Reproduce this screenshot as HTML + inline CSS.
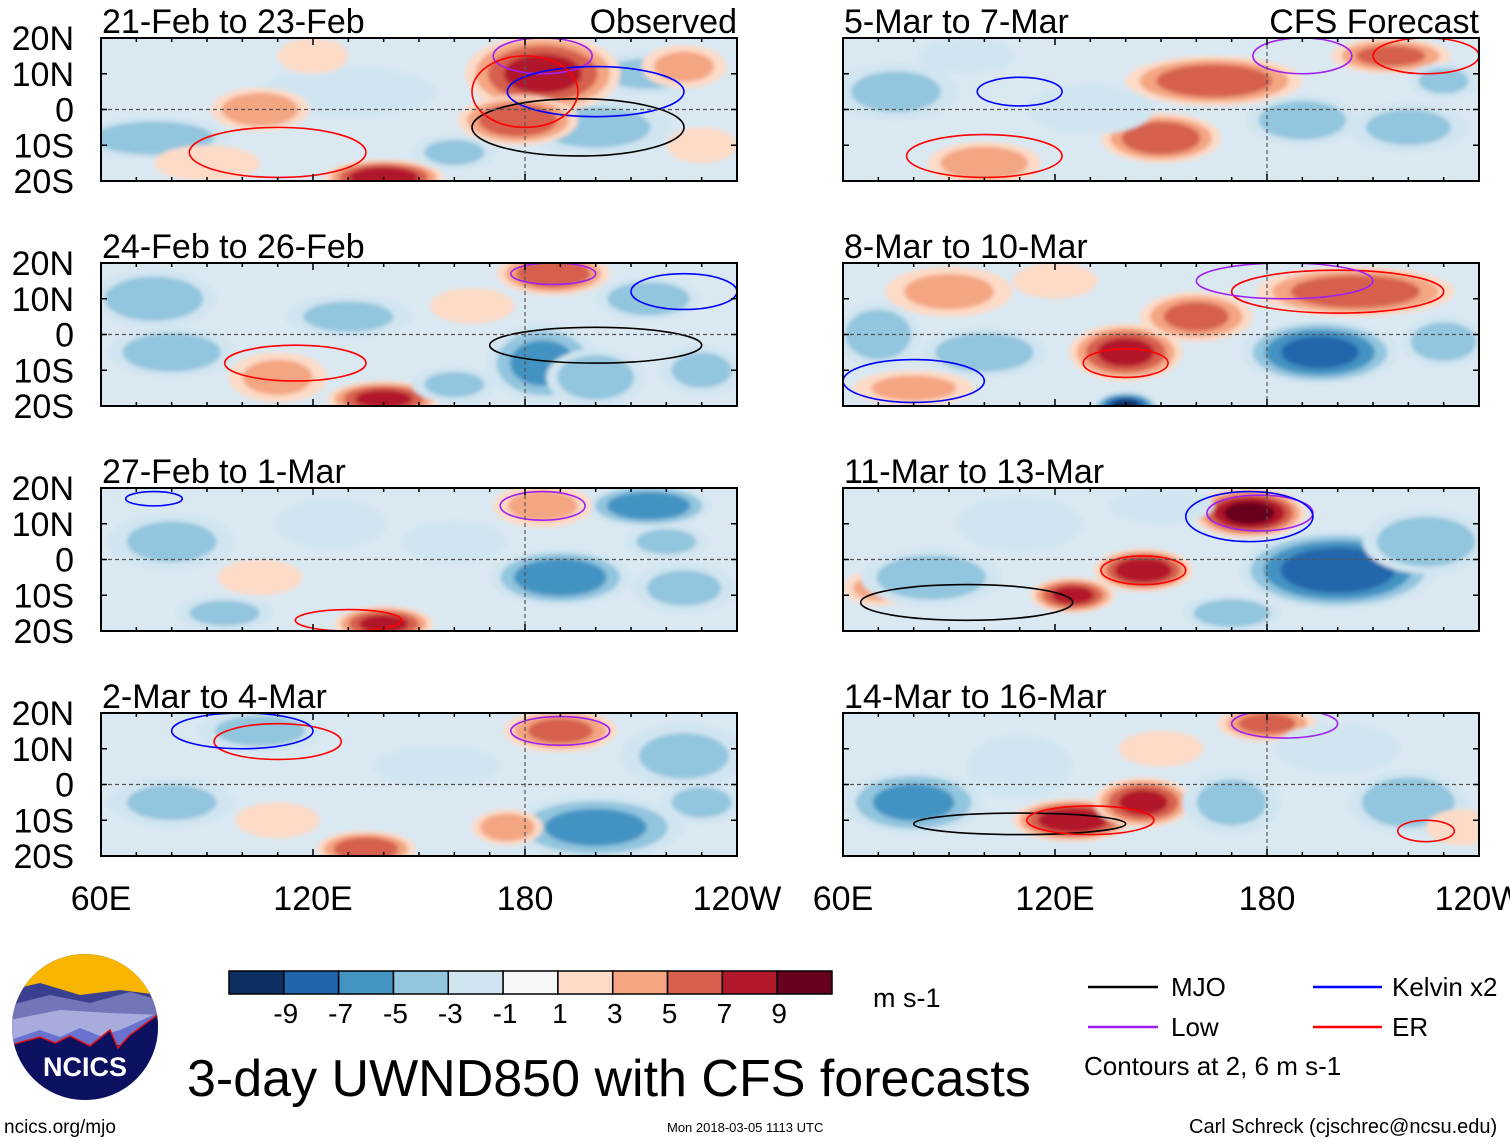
<!DOCTYPE html>
<html><head><meta charset="utf-8">
<style>
body{margin:0;background:#fff;width:1510px;height:1142px;overflow:hidden;font-family:"Liberation Sans",sans-serif;}
svg text{font-family:"Liberation Sans",sans-serif;}
</style></head>
<body>
<svg id="root" width="1510" height="1142" xmlns="http://www.w3.org/2000/svg">
<defs>
<filter id="blur" x="-20%" y="-20%" width="140%" height="140%"><feGaussianBlur stdDeviation="2"/></filter>
<clipPath id="logoClip"><circle cx="85" cy="1027" r="73"/></clipPath>
</defs>
<g id="panels"></g>
<g id="colorbar"></g>
<text x="873" y="1007" font-size="27">m s-1</text>
<g font-size="26">
<line x1="1088" y1="987" x2="1158" y2="987" stroke="#000" stroke-width="2.5"/><text x="1171" y="996">MJO</text>
<line x1="1088" y1="1027" x2="1158" y2="1027" stroke="#a020f0" stroke-width="2.5"/><text x="1171" y="1036">Low</text>
<line x1="1313" y1="987" x2="1382" y2="987" stroke="#0000ff" stroke-width="2.5"/><text x="1392" y="996">Kelvin x2</text>
<line x1="1313" y1="1027" x2="1382" y2="1027" stroke="#ff0000" stroke-width="2.5"/><text x="1392" y="1036">ER</text>
<text x="1084" y="1075" font-size="26">Contours at 2, 6 m s-1</text>
</g>
<text x="187" y="1096" font-size="52">3-day UWND850 with CFS forecasts</text>
<text x="4" y="1133" font-size="19">ncics.org/mjo</text>
<text x="667" y="1132" font-size="13">Mon 2018-03-05 1113 UTC</text>
<text x="1189" y="1133" font-size="20">Carl Schreck (cjschrec@ncsu.edu)</text>
<g>
<g clip-path="url(#logoClip)">
<rect x="10" y="950" width="150" height="160" fill="#1a1a6e"/>
<rect x="10" y="950" width="150" height="50" fill="#f7b500"/>
<path d="M10 990 L40 983 L80 995 L120 990 L160 995 L160 1040 L10 1040Z" fill="#3a3f8f"/>
<path d="M10 1005 L50 995 L90 1003 L130 992 L160 1000 L160 1040 L10 1040Z" fill="#7276b8"/>
<path d="M10 1020 L60 1010 L110 1013 L160 1015 L160 1045 L10 1045Z" fill="#a8acdc"/>
<path d="M10 1040 L40 1030 L60 1037 L80 1028 L100 1036 L120 1030 L160 1012 L160 1045 L10 1045Z" fill="#6a72d0"/>
<path d="M10 1045 L40 1037 L55 1043 L70 1036 L90 1046 L110 1030 L118 1048 L130 1035 L160 1013 L160 1110 L10 1110Z" fill="#0c1060" stroke="#e01010" stroke-width="1.5"/>
</g>
<text x="85" y="1076" font-size="27" font-weight="bold" fill="#fff" text-anchor="middle">NCICS</text>
</g>
</svg>
<script>
// Color scale data
const levels = [-9,-7,-5,-3,-1,1,3,5,7,9];
const colors = ["#0a2f60","#2166ac","#4393c3","#92c5de","#d1e5f0","#f7f7f7","#fddbc7","#f4a582","#d6604d","#b2182b","#67001f"];
const lonTicks = [60,120,180,240];
const lonLabels = ["60E","120E","180","120W"];
const latTicks = [20,10,0,-10,-20];
const latLabels = ["20N","10N","0","10S","20S"];
const titles = ["21-Feb to 23-Feb","24-Feb to 26-Feb","27-Feb to 1-Mar","2-Mar to 4-Mar","5-Mar to 7-Mar","8-Mar to 10-Mar","11-Mar to 13-Mar","14-Mar to 16-Mar"];
// anomaly blobs: [lon, lat, lonRadius, latRadius, value m/s]
const blobs0 = [[75,-8,22,6,-4],[130,5,25,7,-2],[200,-5,22,8,-3],[215,10,18,6,-3],[105,0,14,6,4],[185,10,22,11,7],[178,-3,17,7,6],[140,-19,17,5,8],[225,12,12,6,3],[160,-12,12,5,-3],[90,-15,15,5,2],[120,15,10,5,2],[230,-10,10,5,2]];
const blobs1 = [[75,10,18,8,-4],[80,-5,18,7,-4],[185,-8,16,11,-5],[200,-12,14,8,-4],[215,10,15,6,-4],[130,5,18,6,-3],[188,17,16,6,6],[140,-18,16,5,7],[110,-12,14,7,3],[160,-14,12,5,-3],[165,8,12,5,2],[230,-10,12,7,-3]];
const blobs2 = [[215,15,18,6,-6],[190,-5,20,8,-6],[225,-8,15,7,-3],[80,5,18,8,-3],[140,-18,14,5,7],[185,15,14,6,3],[105,-5,12,5,2],[160,5,15,6,-2],[125,10,16,7,-2],[95,-15,14,5,-3],[220,5,12,5,-3]];
const blobs3 = [[200,-12,25,9,-5],[225,8,18,9,-3],[105,15,18,6,-3],[190,15,16,6,5],[135,-18,14,5,6],[175,-12,10,5,4],[80,-5,18,7,-3],[155,5,18,6,-2],[230,-5,12,6,-3],[110,-10,12,5,2]];
const blobs4 = [[165,8,25,7,6],[150,-8,17,7,6],[215,15,17,5,5],[100,-15,16,6,4],[190,-3,16,7,-4],[220,-5,17,7,-3],[75,5,18,8,-3],[130,0,18,7,-2],[95,15,14,5,-2],[230,8,10,5,-3]];
const blobs5 = [[140,-5,16,8,7],[160,5,16,7,5],[205,12,28,7,6],[90,12,18,7,3],[80,-15,17,5,3],[195,-5,22,9,-7],[140,-20,9,4,-9],[230,-2,12,7,-4],[100,-5,18,7,-4],[70,0,12,9,-4],[120,15,12,5,2]];
const blobs6 = [[175,13,16,7,9],[145,-3,14,6,8],[125,-10,12,5,7],[70,-8,10,5,3],[200,-3,28,11,-8],[225,5,18,9,-4],[85,-5,20,8,-4],[170,-15,14,5,-4],[110,10,18,8,-2],[150,15,15,5,-2]];
const blobs7 = [[125,-10,17,6,8],[145,-5,14,7,7],[180,17,14,5,5],[80,-5,20,9,-5],[220,-5,17,9,-4],[170,-5,14,9,-3],[200,10,18,7,-2],[110,5,15,9,-2],[235,-12,10,5,2],[150,10,12,5,2]];
const allBlobs = [blobs0,blobs1,blobs2,blobs3,blobs4,blobs5,blobs6,blobs7];
// contours [lon, lat, rx, ry, colour]
const contours0 = [[185,15,14,5,"#a020f0"],[200,5,25,7,"#0000ff"],[195,-5,30,8,"#000"],[180,5,15,10,"#ff0000"],[110,-12,25,7,"#ff0000"]];
const contours1 = [[200,-3,30,5,"#000"],[188,17,12,3,"#a020f0"],[225,12,15,5,"#0000ff"],[115,-8,20,5,"#ff0000"]];
const contours2 = [[185,15,12,4,"#a020f0"],[75,17,8,2,"#0000ff"],[130,-17,15,3,"#ff0000"]];
const contours3 = [[190,15,14,4,"#a020f0"],[110,12,18,5,"#ff0000"],[100,15,20,5,"#0000ff"]];
const contours4 = [[190,15,14,5,"#a020f0"],[100,-13,22,6,"#ff0000"],[225,15,15,5,"#ff0000"],[110,5,12,4,"#0000ff"]];
const contours5 = [[200,12,30,6,"#ff0000"],[185,15,25,5,"#a020f0"],[80,-13,20,6,"#0000ff"],[140,-8,12,4,"#ff0000"]];
const contours6 = [[178,13,15,5,"#a020f0"],[175,12,18,7,"#0000ff"],[95,-12,30,5,"#000"],[145,-3,12,4,"#ff0000"]];
const contours7 = [[110,-11,30,3,"#000"],[130,-10,18,4,"#ff0000"],[185,17,15,4,"#a020f0"],[225,-13,8,3,"#ff0000"]];
const allContours = [contours0,contours1,contours2,contours3,contours4,contours5,contours6,contours7];

const NS="http://www.w3.org/2000/svg";
function mk(tag,attrs,parent){const e=document.createElementNS(NS,tag);for(const k in attrs)e.setAttribute(k,attrs[k]);parent.appendChild(e);return e;}
function colorFor(v){let i=Math.floor((v+11)/2);return colors[Math.max(0,Math.min(10,i))];}
const PW=636,PH=143;
const lefts=[101,843], tops=[38,263,488,713];
const panelsG=document.getElementById('panels');
allBlobs.forEach((bl,p)=>{
  const x0=lefts[Math.floor(p/4)], y0=tops[p%4];
  const xs=lon=>x0+(lon-60)/180*PW;
  const ys=lat=>y0+(20-lat)/40*PH;
  const g=mk('g',{},panelsG);
  
  
  const cid='clip'+p;
  const cp=mk('clipPath',{id:cid},g);mk('rect',{x:x0,y:y0,width:PW,height:PH},cp);
  const field=mk('g',{'clip-path':'url(#'+cid+')'},g);
  mk('rect',{x:x0,y:y0,width:PW,height:PH,fill:'#dae8f2'},field);
  const fg=mk('g',{filter:'url(#blur)'},field);
  bl.forEach(b=>{
    const [lon,lat,rx,ry,v]=b; const a=Math.abs(v), s=Math.sign(v);
    for(let lv=1;lv<=a+0.01;lv+=2){
      const f=Math.sqrt(1-(lv-1)/(a+1));
      const e=mk('ellipse',{cx:xs(lon),cy:ys(lat),rx:rx*f*PW/180,ry:ry*f*PH/40,fill:colorFor(s*(lv+0.5))},fg);
      
      
    }
  });
  allContours[p].forEach(c=>{
    const e=mk('ellipse',{cx:xs(c[0]),cy:ys(c[1]),rx:c[2]*PW/180,ry:c[3]*PH/40,fill:'none',stroke:c[4],'stroke-width':1.6},field);
    
    
  });
  mk('line',{x1:x0,y1:ys(0),x2:x0+PW,y2:ys(0),stroke:'#555','stroke-dasharray':'4,3','stroke-width':1.2},g);
  mk('line',{x1:xs(180),y1:y0,x2:xs(180),y2:y0+PH,stroke:'#555','stroke-dasharray':'4,3','stroke-width':1.2},g);
  mk('rect',{x:x0,y:y0,width:PW,height:PH,fill:'none',stroke:'#000','stroke-width':2},g);
  for(let lon=60;lon<=240;lon+=10){const big=lon%60===0;mk('line',{x1:xs(lon),y1:y0,x2:xs(lon),y2:y0+(big?7:4),stroke:'#000','stroke-width':1.5},g);mk('line',{x1:xs(lon),y1:y0+PH,x2:xs(lon),y2:y0+PH-(big?7:4),stroke:'#000','stroke-width':1.5},g);}
  latTicks.forEach((lt,i)=>{
    mk('line',{x1:x0,y1:ys(lt),x2:x0+6,y2:ys(lt),stroke:'#000','stroke-width':1.5},g);
    mk('line',{x1:x0+PW,y1:ys(lt),x2:x0+PW-6,y2:ys(lt),stroke:'#000','stroke-width':1.5},g);
    if(p<4){const t=mk('text',{x:x0-27,y:ys(lt)+12,'font-size':34,'text-anchor':'end'},g);t.textContent=latLabels[i];
      
      }
  });
  const tt=mk('text',{x:x0+1,y:y0-5,'font-size':34},g);tt.textContent=titles[p];
  
  
  if(p===0||p===4){const r=mk('text',{x:x0+PW,y:y0-5,'font-size':34,'text-anchor':'end'},g);r.textContent=p===0?'Observed':'CFS Forecast';
    
    }
  if(p%4===3){lonTicks.forEach((ln,i)=>{const t=mk('text',{x:xs(ln),y:y0+PH+54,'font-size':34,'text-anchor':'middle'},g);t.textContent=lonLabels[i];
    
    });}
});
const cb=document.getElementById('colorbar');
const cbx=229,cbw=603/11;
colors.forEach((c,i)=>{const r=mk('rect',{x:cbx+i*cbw,y:971,width:cbw,height:23,fill:c,stroke:'#000','stroke-width':1.5},cb);
  
  });
levels.forEach((l,i)=>{const t=mk('text',{x:cbx+(i+1)*cbw+2,y:1023,'font-size':28,'text-anchor':'middle'},cb);t.textContent=l;
  
  });
</script>
</body></html>
